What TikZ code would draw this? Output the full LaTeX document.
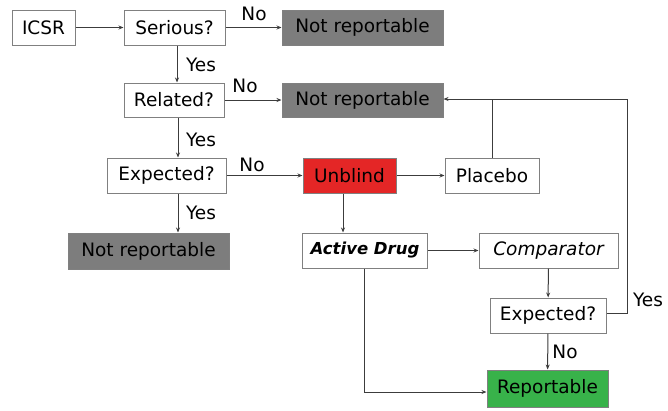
\documentclass[tikz,border=0pt]{standalone}
\usepackage{fontspec}
\setmainfont{DejaVu Sans}
\usetikzlibrary{arrows.meta,calc}
\definecolor{boxline}{RGB}{128,128,128}
\definecolor{nrgray}{RGB}{125,125,125}
\definecolor{unred}{RGB}{228,38,38}
\definecolor{repgreen}{RGB}{56,178,74}
\definecolor{conn}{RGB}{60,60,60}
\begin{document}
\begin{tikzpicture}[x=1pt,y=-1pt,
  every node/.style={font=\fontsize{18.5}{22}\selectfont},
  fbox/.style={draw=boxline,line width=1pt,fill=white,inner sep=0pt},
  nrbox/.style={fbox,fill=nrgray},
  conn/.style={draw=conn,line width=1pt,-{Stealth[length=5pt,width=4pt]}},
  plain/.style={draw=conn,line width=1pt},
  lbl/.style={inner sep=0pt}]
\useasboundingbox (0,0) rectangle (668,410);
\node[fbox,minimum width=63,minimum height=35] (icsr) at (43.5,27.5) {ICSR};
\node[fbox,minimum width=101,minimum height=35] (serious) at (174.5,27.5) {Serious?};
\node[nrbox,minimum width=161,minimum height=35] (nr1) at (362.5,27.5) {Not reportable};
\node[fbox,minimum width=100,minimum height=34] (related) at (174,100) {Related?};
\node[nrbox,minimum width=161,minimum height=34] (nr2) at (362.5,100) {Not reportable};
\node[fbox,minimum width=119,minimum height=35] (exp1) at (166.5,175.5) {Expected?};
\node[fbox,fill=unred,minimum width=93,minimum height=35] (unblind) at (349.5,175.5) {Unblind};
\node[fbox,minimum width=94,minimum height=35] (placebo) at (492,175.5) {Placebo};
\node[nrbox,minimum width=161,minimum height=36] (nr3) at (148.5,251) {Not reportable};
\node[fbox,minimum width=125,minimum height=35] (active) at (365,250.5) {\fontsize{16.5}{20}\selectfont\bfseries\itshape Active Drug};
\node[fbox,minimum width=139,minimum height=35] (comp) at (548.5,250.5) {\itshape Comparator};
\node[fbox,minimum width=116,minimum height=35] (exp2) at (548,315.5) {Expected?};
\node[fbox,fill=repgreen,minimum width=121,minimum height=37] (rep) at (547.5,388.5) {Reportable};
\coordinate (rtop) at (627,99);
\coordinate (rbot) at (627,313);
\coordinate (abot) at (364,392);

\draw[conn] (icsr) -- (serious);
\draw[conn] (serious) -- (nr1);
\node[lbl] (no1) at (254,14) {No};
\draw[conn] (177,0 |- serious.south) -- (177,0 |- related.north);
\node[lbl] (yes1) at (201,65) {Yes};
\draw[conn] (related.east) -- (nr2.west |- related.east);
\node[lbl] (no2) at (245,86) {No};
\draw[conn] (178,0 |- related.south) -- (178,0 |- exp1.north);
\node[lbl] (yes2) at (201,140) {Yes};
\draw[conn] (exp1) -- (unblind);
\node[lbl] (no3) at (252,165) {No};
\draw[conn] (178,0 |- exp1.south) -- (178,0 |- nr3.north);
\node[lbl] (yes3) at (201,213) {Yes};
\draw[conn] (unblind) -- (placebo);
\draw[conn] (343,0 |- unblind.south) -- (343,0 |- active.north);
\draw[conn] (active) -- (comp);
\draw[conn] (comp) -- (exp2);
\draw[conn] (exp2) -- (rep);
\node[lbl] (no4) at (565,352) {No};
\draw[conn] (364,0 |- active.south) -- (abot) -- (rep.west |- abot);
\draw[conn] (exp2.east |- rbot) -- (rbot) -- (rtop) -- (nr2.east |- rtop);
\draw[plain] (placebo.north) -- (placebo.north |- rtop);
\node[lbl] (yes4) at (648,300) {Yes};
\end{tikzpicture}
\end{document}
